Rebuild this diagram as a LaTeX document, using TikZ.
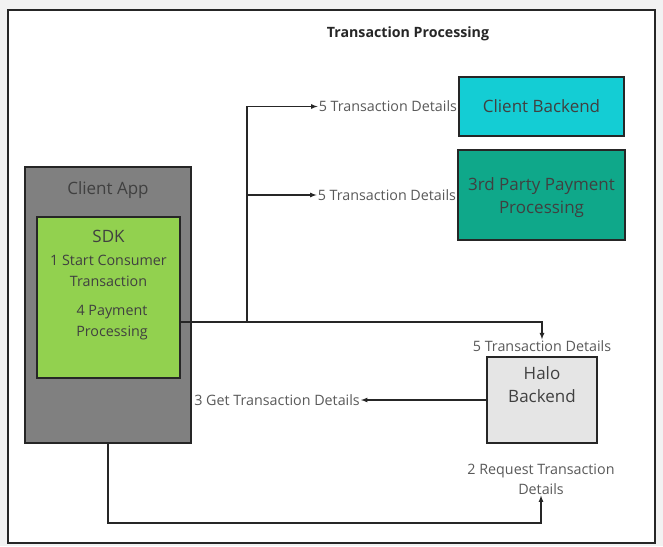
\documentclass[tikz,border=0pt]{standalone}
\usepackage{fontspec}
\setmainfont{Open Sans}
\usetikzlibrary{positioning}
\definecolor{edge}{HTML}{262626}
\definecolor{txt}{HTML}{404040}
\definecolor{lbltxt}{HTML}{595959}
\definecolor{cbfill}{HTML}{14CDD4}
\definecolor{tpfill}{HTML}{0FA88A}
\definecolor{appfill}{HTML}{808080}
\definecolor{sdkfill}{HTML}{92D14F}
\definecolor{halofill}{HTML}{E5E5E5}
\begin{document}
\begin{tikzpicture}[x=1pt,y=-1pt,
  box/.style={draw=edge,line width=1.6pt,rectangle,inner sep=0pt},
  boxtxt/.style={text=txt,font=\fontsize{17}{23}\selectfont,align=center},
  lbl/.style={text=lbltxt,font=\fontsize{14.3}{20}\selectfont,inner sep=1pt,align=center},
  arr/.style={draw=edge,line width=1.2pt,->,>=latex}]

\fill[black!5] (0,0) rectangle (663,546);
\draw[fill=white,draw=edge,line width=1.8pt] (8,10) rectangle (655,543);
\node[text=edge,font=\fontsize{14.2}{16}\selectfont\bfseries] (title) at (408,34) {Transaction Processing};

\node[box,fill=cbfill,minimum width=165pt,minimum height=59pt,boxtxt] (cb) at (541.5,106.5) {Client Backend};
\node[box,fill=tpfill,minimum width=167pt,minimum height=90pt] (tp) at (541.5,195) {};
\node[boxtxt] (tptxt) at ([yshift=-3pt]tp.center) {3rd Party Payment\\Processing};
\node[box,fill=appfill,minimum width=166pt,minimum height=276pt] (app) at (108,305) {};
\node[boxtxt,below=15pt of app.north,inner sep=0pt] (apptxt) {Client App};
\node[box,fill=sdkfill,minimum width=143pt,minimum height=161pt] (sdk) at (108.5,297.5) {};
\node[boxtxt,below=14pt of sdk.north,inner sep=0pt] (sdktxt) {SDK};
\node[lbl,text=txt,font=\fontsize{14.3}{21}\selectfont] (start) at (108.5,270.5) {1 Start Consumer\\Transaction};
\node[lbl,text=txt,font=\fontsize{14.3}{21}\selectfont] (pay) at (112,322.5) {4 Payment\\Processing};
\node[box,fill=halofill,minimum width=110pt,minimum height=86pt] (halo) at (542,400) {};
\node[boxtxt,below=10pt of halo.north,inner sep=0pt] (halotxt) {Halo\\Backend};

\coordinate (out) at (180,322);
\coordinate (j) at (247,322);
\coordinate (low) at (108,523);

\foreach \b in {cb,tp}{
  \node[lbl,anchor=east] (l\b) at (\b.west) {5 Transaction Details};
  \draw[arr] (j) |- (l\b.west);
}
\node[lbl] (lhalo) at (542,346) {5 Transaction Details};
\draw[arr] (out) -- (j) -| (lhalo.north);

\node[lbl,anchor=east] (lget) at (361,400) {3 Get Transaction Details};
\draw[arr] (halo.west) -- (lget.east);

\node[lbl] (lreq) at (541,479) {2 Request Transaction\\Details};
\draw[arr] (app.south) -- (low) -| (lreq.south);
\end{tikzpicture}
\end{document}
